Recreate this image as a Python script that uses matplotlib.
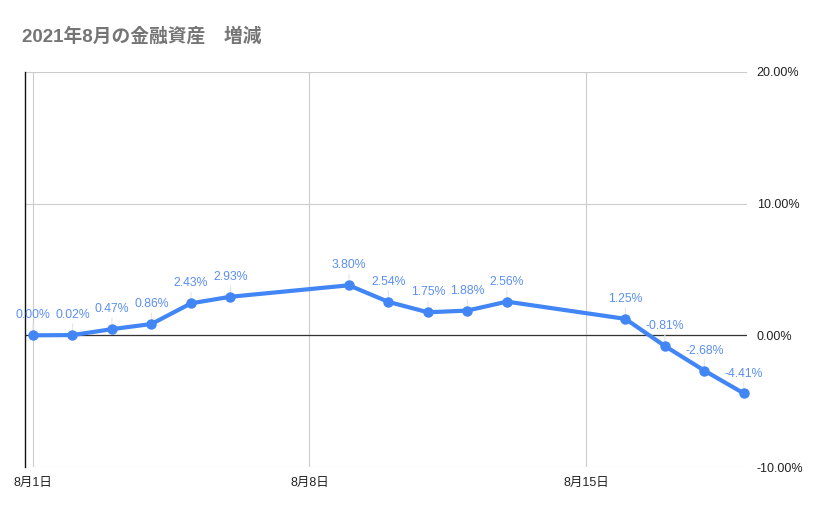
import matplotlib
matplotlib.use("Agg")
from matplotlib import pyplot as plt
from matplotlib.ticker import FixedLocator

# data (day of August, change in %)
days = [1, 2, 3, 4, 5, 6, 9, 10, 11, 12, 13, 16, 17, 18, 19]
changes = [0.00, 0.02, 0.47, 0.86, 2.43, 2.93, 3.80, 2.54, 1.75, 1.88, 2.56, 1.25, -0.81, -2.68, -4.41]
tick_days = [1, 8, 15]
tick_labels = ["8月1日", "8月8日", "8月15日"]
y_ticks = [-10, 0, 10, 20]
title = "2021年8月の金融資産　増減"

fonts = ["Liberation Sans", "Noto Sans CJK JP", "DejaVu Sans"]
plt.rcParams["font.family"] = fonts

blue = "#4285f4"
label_blue = "#5b8ff0"

fig = plt.figure(figsize=(8.29, 5.14), dpi=100)
ax = fig.add_axes([25 / 829, 47 / 514, 722 / 829, 395 / 514])

ax.plot(days, changes, color=blue, lw=3, marker="o", ms=6.5,
        solid_capstyle="round", solid_joinstyle="round", zorder=5, clip_on=False)

for d, v in zip(days, changes):
    ax.annotate(f"{v:.2f}%", xy=(d, v), xytext=(0, 10), textcoords="offset points",
                ha="center", va="bottom", fontsize=8.8, color=label_blue,
                arrowprops=dict(arrowstyle="-", color="#e6e6e6", lw=0.8,
                                shrinkA=0, shrinkB=3))

ax.set_xlim(-0.2025 + 1, 19.08)
ax.set_ylim(-10, 20)

ax.xaxis.set_major_locator(FixedLocator(tick_days))
ax.set_xticklabels(tick_labels)
ax.set_yticks(y_ticks)
ax.set_yticklabels([f"{t:.2f}%" for t in y_ticks])
ax.yaxis.tick_right()
ax.tick_params(length=0, labelsize=9, colors="#222222")
ax.tick_params(axis="x", pad=7)
ax.tick_params(axis="y", pad=7)

ax.grid(True, color="#cccccc", lw=0.8)
ax.axhline(0, color="#333333", lw=0.9, zorder=2)
for s in ["top", "right", "bottom"]:
    ax.spines[s].set_visible(False)
ax.spines["left"].set_color("#111111")
ax.spines["left"].set_linewidth(1.0)

fig.text(22 / 829, 1 - 36 / 514, title, fontsize=13.5, fontweight="bold",
         color="#757575", va="center", ha="left")

fig.savefig("out.png", dpi=100)
